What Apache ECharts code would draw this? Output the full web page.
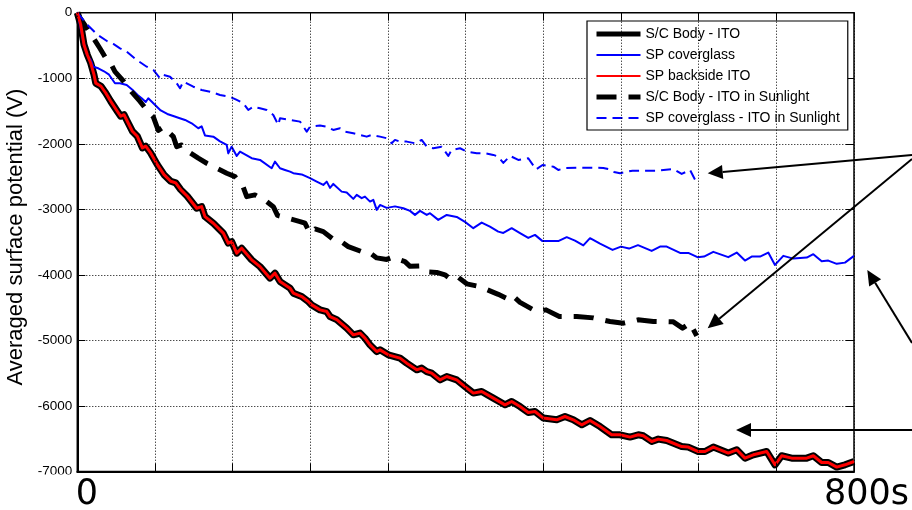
<!DOCTYPE html>
<html>
<head>
<meta charset="utf-8">
<title>Averaged surface potential</title>
<script src="https://cdn.jsdelivr.net/npm/echarts@6.0.0/dist/echarts.min.js"></script>
<style>
  html, body { margin: 0; padding: 0; background: #fff; }
  #chart { width: 912px; height: 510px; }
</style>
</head>
<body>
<div id="chart"></div>
<script>
// Spacecraft body (ITO) potential in eclipse; the SP backside ITO follows it exactly.
const bodyTime = [0,3.5,6.9,10.3,13.8,17.2,19.0,24.4,29.3,34.4,41.2,44.7,48.1,51.5,56.7,61.8,67.0,70.5,75.6,82.4,89.3,96.2,101.4,106.5,113.3,123.0,128.1,131.5,140.1,150.4,155.5,159.0,164.2,169.3,179.6,188.2,198.5,203.6,208.8,219.1,222.5,231.1,237.9,241.4,250.0,256.9,260.3,267.2,277.5,284.3,291.2,296.3,301.5,308.4,311.8,320.3,332.4,339.3,349.6,354.7,359.9,365.0,373.6,380.5,390.8,399.3,407.9,416.5,428.5,440.5,447.4,456.0,464.5,471.4,480.0,493.8,502.3,510.9,519.5,528.1,538.4,550.4,559.0,569.3,577.8,583.0,591.6,598.4,607.1,622.5,629.3,639.6,646.5,655.1,670.5,679.2,687.7,696.3,710.1,718.6,725.5,735.8,751.3,758.1,766.7,773.5,782.2,790.7,800];
const bodyPotential = [0,-183,-488,-641,-767,-946,-1075,-1122,-1225,-1351,-1504,-1580,-1556,-1656,-1808,-1885,-2063,-2037,-2140,-2318,-2471,-2571,-2597,-2699,-2800,-2983,-2959,-3111,-3212,-3364,-3517,-3492,-3669,-3593,-3771,-3874,-4050,-3974,-4102,-4203,-4279,-4331,-4407,-4458,-4534,-4560,-4636,-4683,-4813,-4915,-4889,-4965,-5068,-5170,-5144,-5220,-5270,-5347,-5449,-5423,-5475,-5499,-5602,-5551,-5602,-5704,-5804,-5780,-5880,-5983,-5932,-6009,-6100,-6085,-6185,-6211,-6161,-6211,-6288,-6222,-6314,-6440,-6440,-6475,-6440,-6455,-6542,-6506,-6527,-6619,-6628,-6695,-6695,-6628,-6719,-6669,-6796,-6745,-6695,-6898,-6760,-6796,-6796,-6760,-6863,-6863,-6933,-6898,-6847];

// Solar panel coverglass potential in eclipse.
const coverTime = [0,2.8,5.9,10.0,13.8,16.5,21.6,27.5,32.7,38.8,44.0,50.9,56.7,61.8,66.3,70.5,73.1,78.3,85.9,92.7,99.6,104.8,111.0,117.8,124.6,128.1,131.5,140.1,147.0,153.9,155.5,159.0,164.2,167.6,179.6,188.2,200.2,203.6,208.8,213.9,219.1,222.5,231.1,239.7,246.6,253.4,256.9,260.3,263.7,272.3,277.5,284.3,287.8,292.9,296.3,301.5,304.9,308.4,311.8,318.7,327.2,335.8,342.7,347.8,353.0,359.9,363.3,371.8,380.5,390.8,399.3,407.9,416.5,425.0,433.6,438.8,447.4,456.0,464.5,471.4,479.2,495.4,504.1,512.6,521.2,528.1,538.4,551.3,560.0,568.3,577.5,591.6,600.2,607.1,620.8,629.3,638.8,645.5,655.1,670.5,679.2,687.7,694.6,703.2,711.7,718.6,727.2,737.5,751.3,758.1,766.7,773.5,782.2,790.7,800];
const coverPotential = [0,-188,-416,-645,-721,-824,-848,-894,-946,-1077,-1077,-1103,-1174,-1251,-1305,-1362,-1305,-1382,-1491,-1545,-1580,-1606,-1636,-1687,-1763,-1735,-1873,-1891,-1964,-2018,-2147,-2044,-2185,-2120,-2220,-2246,-2373,-2272,-2373,-2399,-2425,-2449,-2467,-2525,-2577,-2628,-2577,-2673,-2612,-2730,-2742,-2841,-2780,-2830,-2806,-2882,-2856,-3009,-2933,-2978,-2955,-2983,-3024,-3085,-3024,-3085,-3059,-3161,-3085,-3116,-3192,-3288,-3203,-3264,-3340,-3360,-3288,-3364,-3436,-3390,-3485,-3485,-3425,-3477,-3550,-3440,-3523,-3619,-3569,-3599,-3547,-3634,-3569,-3569,-3665,-3665,-3730,-3721,-3649,-3730,-3660,-3782,-3721,-3721,-3660,-3848,-3710,-3752,-3736,-3684,-3791,-3782,-3832,-3813,-3710];

// Body potential with the ITO surfaces in sunlight.
const sunBodyTime = [0,1.8,9.7,16.5,23.4,29.3,33.7,38.8,47.4,56.0,64.6,71.5,78.3,83.4,88.6,98.9,102.4,107.5,114.3,124.6,133.3,143.6,153.9,162.4,171.0,174.5,183.0,195.1,201.9,206.2,215.7,229.4,234.5,239.7,244.8,253.4,266.5,272.3,279.1,292.9,299.7,308.4,318.7,325.5,332.4,337.5,342.7,353.0,361.5,370.2,378.7,385.6,392.4,401.1,414.8,426.8,433.6,442.3,447.4,456.0,468.0,473.2,482.8,496.5,514.4,531.5,548.7,562.4,577.5,593.3,613.9,623.4,631.1,638.0];
const sunBodyPotential = [0,-55,-233,-386,-546,-691,-752,-900,-1042,-1209,-1354,-1484,-1591,-1796,-1743,-1891,-2044,-2018,-2120,-2220,-2297,-2373,-2449,-2501,-2666,-2806,-2780,-2882,-2959,-3093,-3131,-3187,-3212,-3364,-3299,-3340,-3492,-3497,-3569,-3645,-3645,-3741,-3764,-3726,-3771,-3797,-3870,-3863,-3954,-3962,-4000,-4077,-4038,-4137,-4179,-4255,-4297,-4358,-4305,-4420,-4519,-4560,-4534,-4636,-4636,-4656,-4712,-4737,-4686,-4712,-4717,-4813,-4737,-4930];

// Coverglass potential with the ITO surfaces in sunlight.
const sunCoverTime = [0,6.2,10.3,20.6,30.9,37.1,44.0,50.9,61.2,71.5,78.3,85.2,88.6,95.5,102.4,105.8,109.2,119.5,128.1,136.8,147.0,157.3,164.2,171.0,176.1,181.3,188.2,195.1,201.9,207.0,208.8,219.1,229.4,236.3,239.7,250.0,256.9,263.7,270.6,275.7,284.3,291.2,298.1,303.2,311.8,318.7,323.8,327.2,332.4,339.3,347.8,354.7,359.9,366.7,375.3,382.1,385.6,394.2,401.1,411.4,419.9,428.5,433.6,438.8,445.7,454.2,464.5,472.5,479.2,490.3,495.4,503.4,514.4,541.8,546.9,552.8,559.0,571.9,596.8,613.9,622.5,631.1,638.0];
const sunCoverPotential = [0,-111,-183,-336,-436,-477,-543,-595,-721,-824,-874,-1000,-950,-976,-1077,-1153,-1052,-1129,-1179,-1205,-1255,-1281,-1331,-1382,-1484,-1434,-1458,-1484,-1560,-1713,-1610,-1636,-1662,-1815,-1739,-1720,-1739,-1789,-1763,-1815,-1839,-1865,-1891,-1865,-1891,-1915,-1992,-1941,-1967,-1967,-1992,-1941,-2044,-2068,-2044,-2185,-2094,-2068,-2120,-2144,-2144,-2170,-2196,-2292,-2185,-2246,-2220,-2391,-2323,-2349,-2399,-2368,-2364,-2368,-2384,-2429,-2449,-2410,-2410,-2384,-2460,-2399,-2597];

const seriesNames = [
  'S/C Body - ITO',
  'SP coverglass',
  'SP backside ITO',
  'S/C Body - ITO in Sunlight',
  'SP coverglass - ITO in Sunlight'
];
const yTicks = [-7000, -6000, -5000, -4000, -3000, -2000, -1000, 0];
const timeRange = [0, 800];

function pairs(xs, ys) {
  return xs.map((x, i) => [x, ys[i]]);
}

const chart = echarts.init(document.getElementById('chart'), null, { renderer: 'canvas' });

const SANS = 'Liberation Sans, Arial, sans-serif';
const dotted = { color: '#000', width: 1, type: [1, 2] };

// Line styles shared by each series and its legend swatch
const styles = [
  { color: '#000', width: 7, legendWidth: 5, type: 'solid' },
  { color: '#0000ff', width: 2, legendWidth: 2, type: 'solid' },
  { color: '#ff0000', width: 3, legendWidth: 2, type: 'solid' },
  { color: '#000', width: 5, legendWidth: 5, type: [20, 12] },
  { color: '#0000ff', width: 2, legendWidth: 2, type: [10, 6] }
];

// Pointer arrow (tail -> tip) with a filled triangular head
function arrow(x1, y1, x2, y2) {
  const dx = x2 - x1, dy = y2 - y1;
  const len = Math.hypot(dx, dy);
  const ux = dx / len, uy = dy / len;
  const hl = 15, hw = 7;
  const bx = x2 - ux * hl, by = y2 - uy * hl;
  return [
    { type: 'line', z: 100, silent: true,
      shape: { x1: x1, y1: y1, x2: bx, y2: by },
      style: { stroke: '#000', lineWidth: 2 } },
    { type: 'polygon', z: 100, silent: true,
      shape: { points: [[x2, y2], [bx - uy * hw, by + ux * hw], [bx + uy * hw, by - ux * hw]] },
      style: { fill: '#000' } }
  ];
}

function lineSeries(i, time, values, z) {
  const s = styles[i];
  return {
    name: seriesNames[i], type: 'line',
    data: pairs(time, values),
    showSymbol: false, symbol: 'none', z: z,
    lineStyle: { color: s.color, width: s.width, type: s.type, cap: 'butt', join: 'round' },
    itemStyle: { color: s.color }
  };
}

const option = {
  animation: false,
  backgroundColor: '#fff',
  grid: {
    left: 77.3, right: 58, top: 12.7, bottom: 38.5,
    show: true, borderColor: '#000', borderWidth: 1.5, backgroundColor: 'transparent',
    containLabel: false, outerBoundsMode: 'none'
  },
  legend: {
    orient: 'vertical',
    left: 587, top: 21,
    padding: [6, 8, 5, 7],
    itemWidth: 44, itemHeight: 14, itemGap: 7,
    backgroundColor: '#fff',
    borderColor: '#000', borderWidth: 1.2, borderRadius: 0,
    textStyle: { fontFamily: SANS, fontSize: 14, color: '#000' },
    itemStyle: { opacity: 0 },
    data: seriesNames.map((name, i) => ({
      name: name,
      itemStyle: { opacity: 0 },
      lineStyle: { width: styles[i].legendWidth, color: styles[i].color, type: styles[i].type, cap: 'butt' }
    })),
    selectedMode: false
  },
  xAxis: [
    {
      type: 'value', position: 'bottom', z: 10,
      min: timeRange[0], max: timeRange[1], interval: 80,
      axisLine: { show: true, onZero: false, lineStyle: { color: '#000', width: 2 } },
      axisTick: { show: true, inside: true, length: 8, lineStyle: { color: '#000', width: 1 } },
      splitLine: { show: true, lineStyle: dotted },
      axisLabel: {
        show: true, margin: 6, showMinLabel: true, showMaxLabel: true,
        formatter: function (v) {
          if (v === timeRange[0]) return '{a|' + v + '}';
          if (v === timeRange[1]) return '{b|' + v + 's}';
          return '';
        },
        rich: {
          a: { fontFamily: 'DejaVu Sans', fontSize: 35, color: '#000', padding: [0, 0, 0, 19] },
          b: { fontFamily: 'DejaVu Sans', fontSize: 35, color: '#000', padding: [0, 0, 0, 25] }
        }
      }
    },
    {
      type: 'value', position: 'top',
      min: timeRange[0], max: timeRange[1], interval: 80,
      axisLine: { show: false, onZero: false },
      axisTick: { show: true, inside: true, length: 8, lineStyle: { color: '#000', width: 1 } },
      splitLine: { show: false },
      axisLabel: { show: false }
    }
  ],
  yAxis: [
    {
      type: 'value', position: 'left',
      min: yTicks[0], max: yTicks[yTicks.length - 1], interval: 1000,
      name: 'Averaged surface potential (V)',
      nameLocation: 'middle', nameGap: 39,
      nameTextStyle: { fontFamily: SANS, fontSize: 22, color: '#000', padding: [0, 0, 0, 10] },
      axisLine: { show: true, onZero: false, lineStyle: { color: '#000', width: 2 } },
      axisTick: { show: true, inside: true, length: 8, lineStyle: { color: '#000', width: 1 } },
      splitLine: { show: true, lineStyle: dotted },
      axisLabel: {
        show: true, margin: 5, fontFamily: SANS, fontSize: 13.5, color: '#000',
        formatter: function (v) { return String(v); }
      }
    },
    {
      type: 'value', position: 'right',
      min: yTicks[0], max: yTicks[yTicks.length - 1], interval: 1000,
      axisLine: { show: false, onZero: false },
      axisTick: { show: true, inside: true, length: 8, lineStyle: { color: '#000', width: 1 } },
      splitLine: { show: false },
      axisLabel: { show: false }
    }
  ],
  series: [
    lineSeries(0, bodyTime, bodyPotential, 2),
    lineSeries(1, coverTime, coverPotential, 3),
    lineSeries(2, bodyTime, bodyPotential, 4),
    lineSeries(3, sunBodyTime, sunBodyPotential, 3),
    lineSeries(4, sunCoverTime, sunCoverPotential, 3)
  ],
  graphic: [
    // blank strip under the plot frame
    { type: 'rect', z: 5, silent: true,
      shape: { x: 0, y: 474.5, width: 912, height: 40 },
      style: { fill: '#fff' } }
  ]
    .concat(arrow(912, 155, 707.7, 173.3))
    .concat(arrow(912, 159, 707.7, 328.3))
    .concat(arrow(912, 343, 867.3, 270))
    .concat(arrow(912, 430, 736, 430))
};

chart.setOption(option);
</script>
</body>
</html>
